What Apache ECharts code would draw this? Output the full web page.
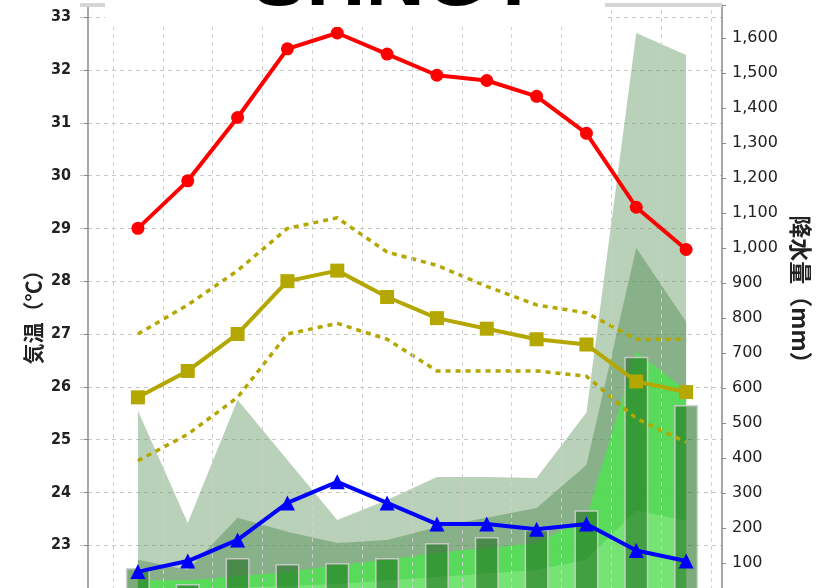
<!DOCTYPE html>
<html>
<head>
<meta charset="utf-8">
<script src="https://cdn.jsdelivr.net/npm/echarts@6/dist/echarts.min.js"></script>
<style>
  html, body { margin: 0; padding: 0; background: #fff; }
  #chart { width: 823px; height: 588px; }
</style>
</head>
<body>
<div id="chart"></div>
<script>
// Months 1..12
const months = [1, 2, 3, 4, 5, 6, 7, 8, 9, 10, 11, 12];

// Temperature (°C)
const tempMax      = [29.0, 29.9, 31.1, 32.4, 32.7, 32.3, 31.9, 31.8, 31.5, 30.8, 29.4, 28.6];
const tempMeanHigh = [27.0, 27.55, 28.2, 29.0, 29.2, 28.55, 28.3, 27.9, 27.55, 27.4, 26.9, 26.9];
const tempMean     = [25.8, 26.3, 27.0, 28.0, 28.2, 27.7, 27.3, 27.1, 26.9, 26.8, 26.1, 25.9];
const tempMeanLow  = [24.6, 25.1, 25.8, 27.0, 27.2, 26.9, 26.3, 26.3, 26.3, 26.2, 25.4, 24.95];
const tempMin      = [22.5, 22.7, 23.1, 23.8, 24.2, 23.8, 23.4, 23.4, 23.3, 23.4, 22.9, 22.7];

// Precipitation (mm): monthly mean and ranges
const precipMean  = [86, 40, 114, 97, 100, 114, 157, 174, 195, 251, 689, 551];
const precipBandA = [535, 214, 566, 394, 223, 280, 346, 346, 343, 530, 1614, 1551];
const precipBandB = [109, 80, 229, 189, 157, 166, 203, 229, 257, 380, 1000, 789];
const precipBandC = [51, 51, 62, 74, 94, 109, 129, 143, 157, 230, 703, 594];
const precipBandD = [20, 25, 30, 35, 40, 50, 60, 70, 80, 110, 250, 220];

// Axis tick settings and titles
const tempTickStep = 1;
const precipTickStep = 100;
const tempAxisTitle = '気温（℃）';
const precipAxisTitle = '降水量（mm）';
const chartTitle = 'SHNGT';

const pairs = arr => months.map((m, i) => [m, arr[i]]);
const monthEdges = months.map(m => m - 0.5).concat([12.5]);

const chart = echarts.init(document.getElementById('chart'), null, { renderer: 'canvas' });

const areaSeries = (name, data, color) => ({
  name, type: 'line', yAxisIndex: 1, data: pairs(data),
  symbol: 'none', lineStyle: { width: 0 }, z: 2,
  areaStyle: { color, opacity: 1 }, silent: true
});

const option = {
  animation: false,
  backgroundColor: '#ffffff',
  grid: { left: 80, top: 5, width: 642, height: 593, containLabel: false, outerBoundsMode: 'none' },
  xAxis: {
    type: 'value', min: -0.162, max: 12.72,
    axisLine: { show: false }, axisTick: { show: false },
    axisLabel: { show: false }, splitLine: { show: false }
  },
  yAxis: [
    {
      type: 'value', min: 22, max: 33.23, interval: tempTickStep,
      position: 'left',
      axisLine: { show: true, lineStyle: { color: '#8a8a8a', width: 1.5 } },
      axisTick: { show: true, length: 4, lineStyle: { color: '#8a8a8a' } },
      axisLabel: {
        margin: 9, color: '#222', fontSize: 16, fontWeight: 'bold',
        fontFamily: 'DejaVu Sans Condensed',
        formatter: v => (Math.abs(v - Math.round(v)) < 1e-6 && v > 22) ? String(Math.round(v)) : ''
      },
      splitLine: { show: true, lineStyle: { color: '#c9c9c9', type: [4, 4], width: 1 } }
    },
    {
      type: 'value', min: 0, max: 1694, interval: precipTickStep,
      position: 'right',
      axisLine: { show: true, lineStyle: { color: '#8a8a8a', width: 1.5 } },
      axisTick: { show: true, length: 4, lineStyle: { color: '#8a8a8a' } },
      axisLabel: {
        margin: 10, color: '#222', fontSize: 16,
        fontFamily: 'DejaVu Sans',
        formatter: v => (v > 0 && v % 100 === 0) ? v.toLocaleString('en-US') : ''
      },
      splitLine: { show: false }
    }
  ],
  series: [
    {
      name: 'grid', type: 'line', data: [], z: 1, silent: true,
      markLine: {
        silent: true, symbol: ['none', 'none'], label: { show: false },
        lineStyle: { color: '#cfcfcf', type: [4, 4], width: 1 },
        data: monthEdges.map(v => ({ xAxis: v }))
      }
    },
    areaSeries('bandA', precipBandA, 'rgba(100,150,100,0.45)'),
    areaSeries('bandB', precipBandB, 'rgba(80,140,80,0.45)'),
    areaSeries('bandC', precipBandC, 'rgba(70,235,70,0.7)'),
    areaSeries('bandD', precipBandD, 'rgba(170,245,170,0.35)'),
    {
      name: '降水量', type: 'bar', yAxisIndex: 1, data: pairs(precipMean),
      barWidth: 24, z: 3,
      itemStyle: { color: 'rgba(30,110,30,0.58)', borderColor: 'rgba(205,205,205,0.9)', borderWidth: 1.5 }
    },
    {
      name: 'meanHigh', type: 'line', yAxisIndex: 0, data: pairs(tempMeanHigh), z: 4,
      symbol: 'none', lineStyle: { color: '#b3a700', width: 3.5, type: [5, 5] }
    },
    {
      name: 'meanLow', type: 'line', yAxisIndex: 0, data: pairs(tempMeanLow), z: 4,
      symbol: 'none', lineStyle: { color: '#b3a700', width: 3.5, type: [5, 5] }
    },
    {
      name: 'mean', type: 'line', yAxisIndex: 0, data: pairs(tempMean), z: 5,
      symbol: 'rect', symbolSize: 14,
      lineStyle: { color: '#b3a700', width: 4 }, itemStyle: { color: '#b3a700' }
    },
    {
      name: 'max', type: 'line', yAxisIndex: 0, data: pairs(tempMax), z: 5,
      symbol: 'circle', symbolSize: 13,
      lineStyle: { color: '#ff0000', width: 4 }, itemStyle: { color: '#ff0000' }
    },
    {
      name: 'min', type: 'line', yAxisIndex: 0, data: pairs(tempMin), z: 5,
      symbol: 'triangle', symbolSize: 15,
      lineStyle: { color: '#0000ff', width: 4 }, itemStyle: { color: '#0000ff' }
    }
  ],
  graphic: [
    { type: 'rect', z: 50, shape: { x: 80, y: 3, width: 642, height: 4 }, style: { fill: '#d6d6d6' } },
    { type: 'rect', z: 51, shape: { x: 105, y: 0, width: 500, height: 27 }, style: { fill: '#ffffff' } },
    {
      type: 'text', z: 52, x: 395, y: -18,
      style: {
        text: chartTitle, fill: '#000', font: 'bold 82px "Liberation Sans"',
        textAlign: 'center', textVerticalAlign: 'middle'
      }
    },
    {
      type: 'text', z: 52, x: 33, y: 312, rotation: Math.PI / 2,
      style: { text: tempAxisTitle, fill: '#222', font: 'bold 21px "Noto Sans CJK JP"', textAlign: 'center', textVerticalAlign: 'middle' }
    },
    {
      type: 'text', z: 52, x: 801, y: 295, rotation: -Math.PI / 2,
      style: { text: precipAxisTitle, fill: '#222', font: 'bold 23px "Noto Sans CJK JP"', textAlign: 'center', textVerticalAlign: 'middle' }
    }
  ]
};

chart.setOption(option);
</script>
</body>
</html>
